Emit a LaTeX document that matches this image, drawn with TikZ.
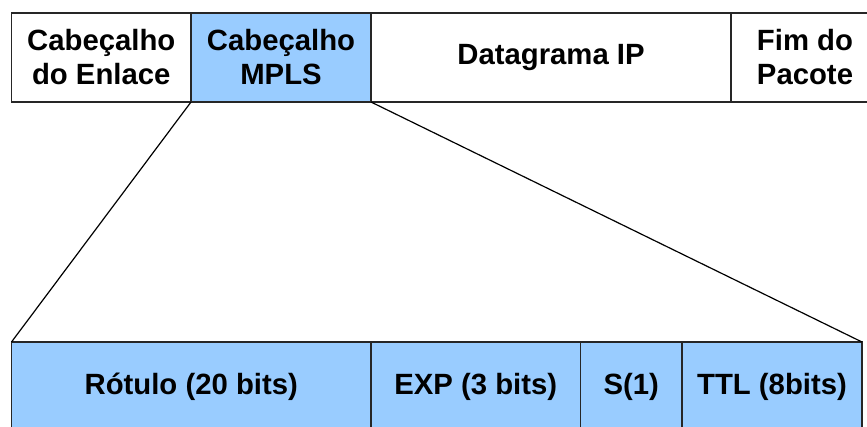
\documentclass[tikz,border=0pt]{standalone}
\usepackage{fontspec}
\setmainfont{Liberation Sans}
\definecolor{mplsblue}{HTML}{99CCFF}
\begin{document}
\begin{tikzpicture}[x=1pt,y=-1pt,
  field/.style={draw=black!85, line width=1.3pt, inner sep=0pt, outer sep=0pt,
    font=\fontsize{29.3}{34}\selectfont\bfseries, align=center},
  toprow/.style={field, minimum height=89pt},
  botrow/.style={field, minimum height=90pt, fill=mplsblue},
  zoomline/.style={line width=1.2pt, black}]
\clip (0,0) rectangle (867,426);
\fill[white] (0,0) rectangle (867,426);

% frame: link header, MPLS header, IP datagram, trailer
\node[toprow, minimum width=179.5pt] (enlace) at (101.25,57.5) {Cabeçalho\\do Enlace};
\node[toprow, minimum width=180pt, fill=mplsblue] (mpls) at (281,57.5) {Cabeçalho\\MPLS};
\node[toprow, minimum width=360pt] (ip) at (551,57.5) {Datagrama IP};
\node[toprow, minimum width=148pt] (fim) at (805,57.5) {Fim do\\Pacote};

% MPLS header fields
\node[botrow, minimum width=359.5pt] (rotulo) at (191.25,387) {Rótulo (20 bits)};
\node[botrow, minimum width=209.5pt] (exp) at (475.75,387) {EXP (3 bits)};
\node[botrow, minimum width=101.5pt] (s) at (631.25,387) {S(1)};
\node[botrow, minimum width=180pt] (ttl) at (772,387) {TTL (8bits)};

% expansion lines
\draw[zoomline] (mpls.south west) -- (rotulo.north west);
\draw[zoomline] (mpls.south east) -- (ttl.north east);
\end{tikzpicture}
\end{document}
